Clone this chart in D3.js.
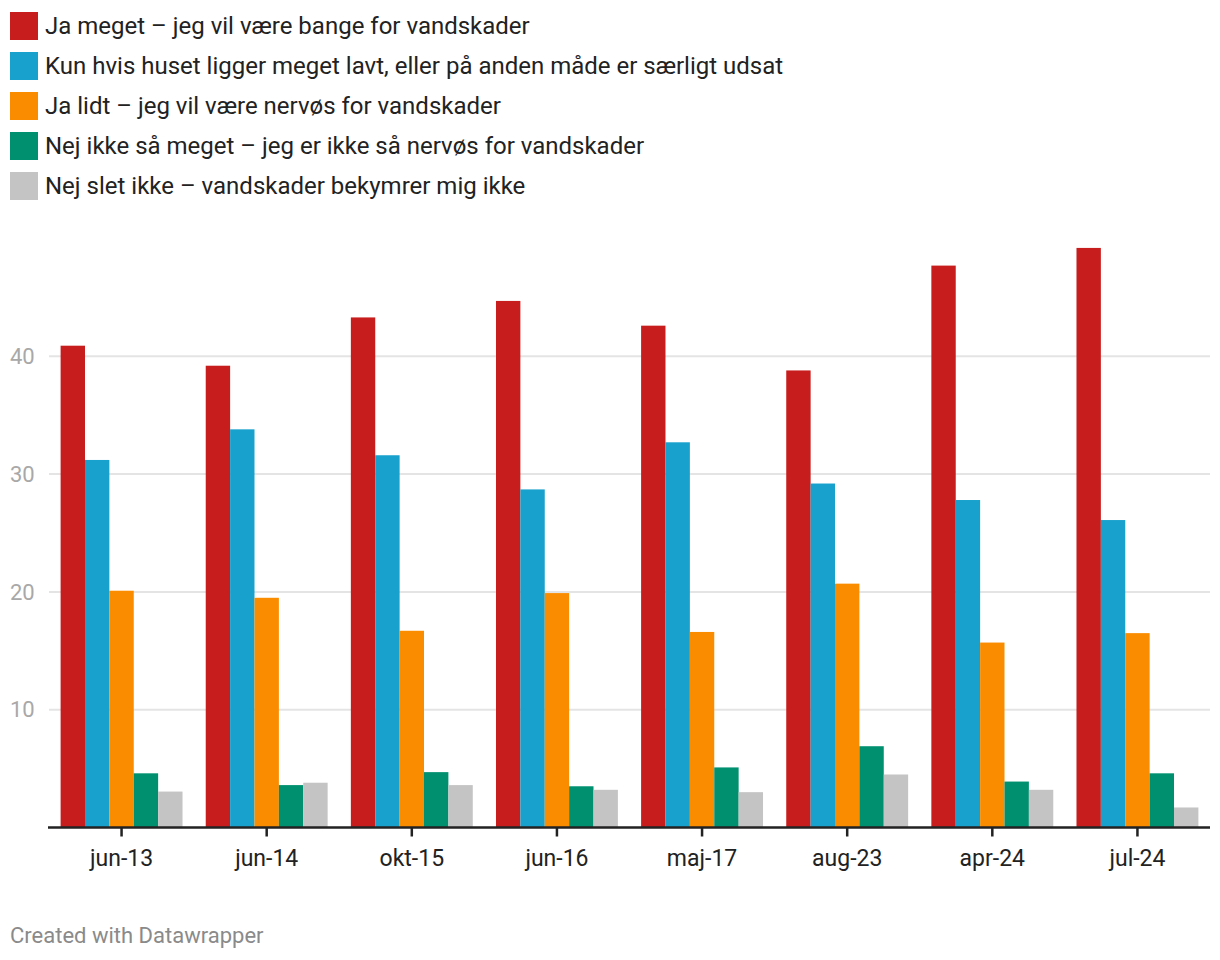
<!DOCTYPE html>
<html><head><meta charset="utf-8">
<script src="https://cdn.jsdelivr.net/npm/d3@7"></script>
<style>
body{margin:0;background:#fff;font-family:Roboto,"Noto Sans",sans-serif;}
</style></head>
<body><svg id="c" width="1220" height="960"></svg>
<script>
const categories = ["jun-13","jun-14","okt-15","jun-16","maj-17","aug-23","apr-24","jul-24"];
const seriesNames = [
  "Ja meget – jeg vil være bange for vandskader",
  "Kun hvis huset ligger meget lavt, eller på anden måde er særligt udsat",
  "Ja lidt – jeg vil være nervøs for vandskader",
  "Nej ikke så meget – jeg er ikke så nervøs for vandskader",
  "Nej slet ikke – vandskader bekymrer mig ikke"
];
const colors = ["#c71e1d","#18a1cd","#fa8c00","#00906f","#c4c4c4"];
const jaMeget    = [40.9, 39.2, 43.3, 44.7, 42.6, 38.8, 47.7, 49.2];
const kunHvis    = [31.2, 33.8, 31.6, 28.7, 32.7, 29.2, 27.8, 26.1];
const jaLidt     = [20.1, 19.5, 16.7, 19.9, 16.6, 20.7, 15.7, 16.5];
const nejIkkeSaa = [4.6, 3.6, 4.7, 3.5, 5.1, 6.9, 3.9, 4.6];
const nejSlet    = [3.05, 3.8, 3.6, 3.2, 3.0, 4.5, 3.2, 1.7];
const yTicks = [10, 20, 30, 40];
const series = [jaMeget, kunHvis, jaLidt, nejIkkeSaa, nejSlet];

const svg = d3.select("#c");
const left = 49, right = 1210, base = 827.5;
const y = d3.scaleLinear().domain([0, 10]).range([base, base - 117.8]);
const x0 = d3.scaleBand().domain(categories).range([left, right]).paddingInner(0.16).paddingOuter(0.08);
const x1 = d3.scaleBand().domain(d3.range(series.length)).range([0, x0.bandwidth()]);

// legend
const lg = svg.append("g");
seriesNames.forEach((n, i) => {
  const g = lg.append("g").attr("transform", `translate(10,${12 + i*40})`);
  g.append("rect").attr("width", 28).attr("height", 28).attr("fill", colors[i]);
  g.append("text").attr("x", 35).attr("y", 14).attr("dy", "0.35em")
    .attr("font-size", 24).attr("fill", "#222").text(n);
});

// gridlines
const yAxis = svg.append("g");
yAxis.selectAll("line").data(yTicks).join("line")
  .attr("x1", left).attr("x2", right)
  .attr("y1", d => y(d)).attr("y2", d => y(d))
  .attr("stroke", "#e4e4e4").attr("stroke-width", 2);
yAxis.selectAll("text").data(yTicks).join("text")
  .attr("x", 10).attr("y", d => y(d)).attr("dy", "0.35em")
  .attr("font-size", 22).attr("fill", "#a8a8a8").text(d => d);

// bars
const groups = svg.append("g").selectAll("g").data(categories).join("g")
  .attr("transform", d => `translate(${x0(d)},0)`);
groups.selectAll("rect").data((d, ci) => series.map((s, si) => ({si, v: s[ci]}))).join("rect")
  .attr("x", d => x1(d.si)).attr("width", x1.bandwidth())
  .attr("y", d => y(d.v)).attr("height", d => base - y(d.v))
  .attr("fill", d => colors[d.si]);

// x axis
const xa = svg.append("g").attr("transform", `translate(0,${base})`)
  .call(d3.axisBottom(x0).tickSize(9).tickSizeOuter(0).tickPadding(13));
xa.select(".domain").attr("d", `M${left-1},0H${right}`).attr("stroke", "#222").attr("stroke-width", 2.5);
xa.selectAll(".tick line").attr("stroke", "#222").attr("stroke-width", 2.5);
xa.selectAll(".tick text").attr("font-size", 23).attr("fill", "#222").attr("font-family", "Roboto");

svg.append("text").attr("x", 10).attr("y", 935).attr("dy", "0.35em")
  .attr("font-size", 22).attr("fill", "#8a8a8a").text("Created with Datawrapper");
</script></body></html>
